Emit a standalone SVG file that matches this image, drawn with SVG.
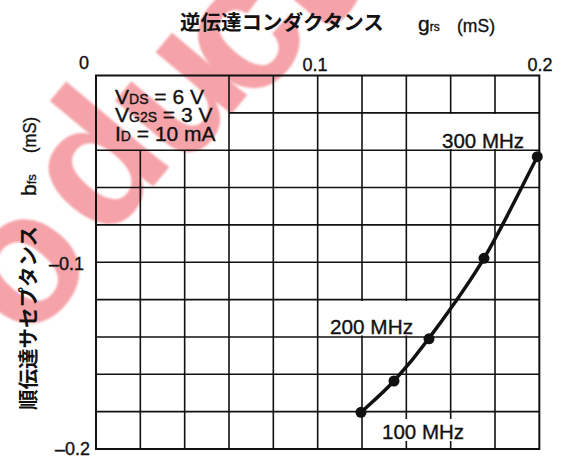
<svg xmlns="http://www.w3.org/2000/svg" width="564" height="461" viewBox="0 0 564 461">
  <defs>
    <filter id="soft" x="-20%" y="-20%" width="140%" height="140%">
      <feGaussianBlur stdDeviation="1.2"/>
    </filter>
    <style>
      .lat { font-family: "Liberation Sans", Arial, sans-serif; fill: #111; stroke: #111; stroke-width: 0.35; }
      .cjk { font-family: "Noto Sans CJK JP", "Noto Sans CJK SC", sans-serif; fill: #111; font-weight: bold; }
      .grid { stroke: #111; stroke-width: 1.6; fill: none; }
      .frame { stroke: #111; stroke-width: 2; fill: none; }
      .curve { stroke: #111; stroke-width: 3.5; fill: none; stroke-linecap: round; }
      .dot { fill: #111; }
      .bg { fill: #fff; }
      .wm { font-family: "Liberation Sans", Arial, sans-serif; font-weight: bold; fill: #f5a3a8; font-size: 185px; }
    </style>
  </defs>
  <rect x="0" y="0" width="564" height="461" fill="#fff"/>

  <!-- watermark -->
  <g id="watermark" filter="url(#soft)">
    <text class="wm" transform="translate(28,272) rotate(-50)" x="0" y="48" text-anchor="middle">o</text>
    <text class="wm" transform="translate(104,170) rotate(-50)" x="0" y="48" text-anchor="middle">d</text>
    <text class="wm" transform="translate(182,98) rotate(-50)" x="0" y="48" text-anchor="middle">u</text>
    <text class="wm" transform="translate(248,40) rotate(-50)" x="0" y="48" text-anchor="middle">c</text>
    <text class="wm" transform="translate(305,-12) rotate(-50)" x="0" y="48" text-anchor="middle">t</text>
  </g>

  <!-- title -->
  <g id="title">
    <text class="cjk" x="180" y="30" font-size="20.5">逆伝達コンダクタンス</text>
    <text class="lat" x="418" y="31" font-size="21">g<tspan font-size="12">rs</tspan></text>
    <text class="lat" x="457" y="31.5" font-size="19" textLength="38" lengthAdjust="spacingAndGlyphs">(mS)</text>
  </g>

  <!-- y axis title -->
  <g id="ytitle" transform="translate(36,410) rotate(-90)">
    <text class="cjk" x="0" y="0" font-size="20.5">順伝達サセプタンス</text>
    <text class="lat" x="214" y="0" font-size="21">b<tspan font-size="13">fs</tspan></text>
    <text class="lat" x="257" y="0" font-size="19" textLength="36" lengthAdjust="spacingAndGlyphs">(mS)</text>
  </g>

  <!-- tick labels -->
  <g id="ticks" class="lat" font-size="18">
    <text x="84" y="69" text-anchor="middle">0</text>
    <text x="315" y="70.5" text-anchor="middle">0.1</text>
    <text x="540" y="70.5" text-anchor="middle">0.2</text>
    <text x="84" y="270" text-anchor="end">–0.1</text>
    <text x="90" y="455" text-anchor="end">–0.2</text>
  </g>

  <!-- grid -->
  <g id="grid">
    <path class="grid" d="M140.33 150.2V449 M184.67 150.2V449 M229 75.5V449 M273.33 75.5V449 M317.67 75.5V449 M362 75.5V449 M406.33 75.5V449 M450.67 75.5V449 M495 75.5V449"/>
    <path class="grid" d="M229 112.85H539.33 M96 150.2H539.33 M96 187.55H539.33 M96 224.9H539.33 M96 262.25H539.33 M96 299.6H539.33 M96 336.95H539.33 M96 374.3H539.33 M96 411.65H539.33"/>
    <rect class="frame" x="96" y="75.5" width="443.33" height="373.5"/>
  </g>

  <!-- conditions box text -->
  <g id="conditions" class="lat" font-size="21">
    <text x="115" y="104">V<tspan font-size="14">DS</tspan> = 6 V</text>
    <text x="115" y="122">V<tspan font-size="14">G2S</tspan> = 3 V</text>
    <text x="115" y="141">I<tspan font-size="14">D</tspan> = 10 mA</text>
  </g>

  <!-- frequency labels -->
  <g id="label-300">
    <rect class="bg" x="439" y="114" width="92" height="35"/>
    <text class="lat" x="442" y="148" font-size="20.5" textLength="82" lengthAdjust="spacingAndGlyphs">300 MHz</text>
  </g>
  <g id="label-200">
    <rect class="bg" x="327" y="301" width="89" height="34.5"/>
    <text class="lat" x="330" y="333.5" font-size="20.5" textLength="83" lengthAdjust="spacingAndGlyphs">200 MHz</text>
  </g>
  <g id="label-100">
    <rect class="bg" x="379" y="419" width="87" height="22"/>
    <text class="lat" x="382" y="438.5" font-size="20.5" textLength="82" lengthAdjust="spacingAndGlyphs">100 MHz</text>
  </g>

  <!-- curve -->
  <g id="connectors">
    <path class="curve" d="M361 412.3 C366.5 407.1 382.7 393.3 394 381 C405.3 368.7 414 358.75 429 338.3 C444 317.85 465.95 288.6 484 258.3 C502.05 228.03 528.4 173.6 537.3 156.7"/>
  </g>
  <g id="points">
    <circle class="dot" cx="361" cy="412.3" r="5.5"/>
    <circle class="dot" cx="394" cy="381" r="5.5"/>
    <circle class="dot" cx="429" cy="338.8" r="5.5"/>
    <circle class="dot" cx="484" cy="258.3" r="5.5"/>
    <circle class="dot" cx="537.3" cy="156.7" r="5.5"/>
  </g>
</svg>
